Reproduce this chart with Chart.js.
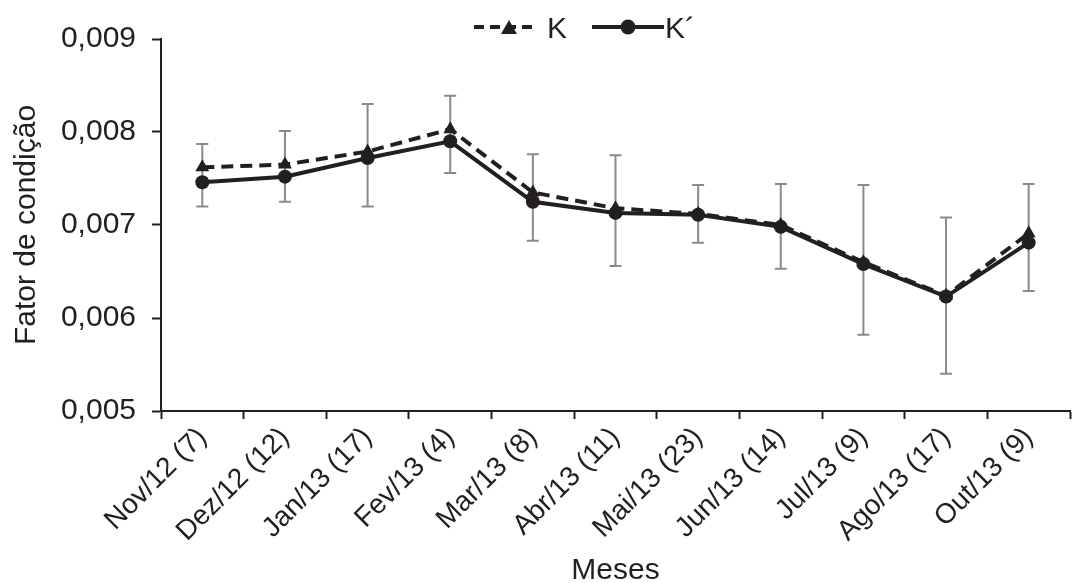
<!DOCTYPE html>
<html lang="pt">
<head>
    <meta charset="UTF-8">
    <title>Fator de condição</title>
    <script src="https://cdn.jsdelivr.net/npm/chart.js"></script>
    <style>
        body { margin: 0; background: #ffffff; }
        #wrap { width: 1078px; height: 583px; }
    </style>
</head>
<body>
<div id="wrap">
    <canvas id="chart" width="1078" height="583"></canvas>
</div>

<script>
    // data
    const months = ['Nov/12 (7)', 'Dez/12 (12)', 'Jan/13 (17)', 'Fev/13 (4)', 'Mar/13 (8)', 'Abr/13 (11)',
                    'Mai/13 (23)', 'Jun/13 (14)', 'Jul/13 (9)', 'Ago/13 (17)', 'Out/13 (9)'];
    const kValues = [0.00762, 0.00765, 0.00779, 0.00803, 0.00735, 0.00718, 0.00712, 0.00700, 0.00660, 0.00624, 0.00691];
    const kPrimeValues = [0.00746, 0.00752, 0.00772, 0.00790, 0.00725, 0.00713, 0.00711, 0.00698, 0.00658, 0.00623, 0.00681];
    const errUpper = [0.00787, 0.00801, 0.00830, 0.00839, 0.00776, 0.00775, 0.00743, 0.00744, 0.00743, 0.00708, 0.00744];
    const errLower = [0.00720, 0.00725, 0.00720, 0.00756, 0.00683, 0.00656, 0.00681, 0.00653, 0.00582, 0.00540, 0.00629];
    const yTicks = [0.005, 0.006, 0.007, 0.008, 0.009];

    const ink = '#231f20';
    const fontFamily = 'Arial, "Liberation Sans", sans-serif';

    // grey error bars behind the lines
    const errorBars = {
        id: 'errorBars',
        beforeDatasetsDraw(chart) {
            const ctx = chart.ctx;
            const x = chart.scales.x, y = chart.scales.y;
            ctx.save();
            ctx.strokeStyle = '#8a8a8a';
            ctx.lineWidth = 2;
            errUpper.forEach((hi, i) => {
                const px = x.getPixelForValue(i);
                const top = y.getPixelForValue(hi);
                const bot = y.getPixelForValue(errLower[i]);
                ctx.beginPath();
                ctx.moveTo(px, top); ctx.lineTo(px, bot);
                ctx.moveTo(px - 6, top); ctx.lineTo(px + 6, top);
                ctx.moveTo(px - 6, bot); ctx.lineTo(px + 6, bot);
                ctx.stroke();
            });
            ctx.restore();
        }
    };

    // legend with line sample + marker, like the original
    const lineLegend = {
        id: 'lineLegend',
        afterDraw(chart) {
            const ctx = chart.ctx;
            const cy = 27;
            ctx.save();
            ctx.strokeStyle = ink;
            ctx.fillStyle = ink;
            ctx.lineWidth = 4;
            // K dashed + triangle
            ctx.setLineDash([10, 6]);
            ctx.beginPath();
            ctx.moveTo(474, cy); ctx.lineTo(536, cy);
            ctx.stroke();
            ctx.setLineDash([]);
            ctx.beginPath();
            ctx.moveTo(509, cy - 7); ctx.lineTo(517, cy + 7); ctx.lineTo(501, cy + 7);
            ctx.closePath(); ctx.fill();
            // K' solid + circle
            ctx.beginPath();
            ctx.moveTo(592, cy); ctx.lineTo(664, cy);
            ctx.stroke();
            ctx.beginPath();
            ctx.arc(628, cy, 7.5, 0, Math.PI * 2);
            ctx.fill();
            ctx.font = '30px ' + fontFamily;
            ctx.textBaseline = 'alphabetic';
            ctx.fillText('K', 547, 38);
            ctx.fillText('K´', 665, 38);
            ctx.restore();
        }
    };

    new Chart(document.getElementById('chart').getContext('2d'), {
        type: 'line',
        data: {
            labels: months,
            datasets: [
                {
                    label: 'K´',
                    data: kPrimeValues,
                    borderColor: ink,
                    backgroundColor: ink,
                    borderWidth: 4,
                    pointStyle: 'circle',
                    pointRadius: 7,
                    pointBorderWidth: 0,
                    tension: 0
                },
                {
                    label: 'K',
                    data: kValues,
                    borderColor: ink,
                    backgroundColor: ink,
                    borderWidth: 4,
                    borderDash: [12, 7],
                    pointStyle: 'triangle',
                    pointRadius: 8,
                    pointBorderWidth: 0,
                    tension: 0
                }
            ]
        },
        options: {
            responsive: false,
            animation: false,
            layout: { padding: { top: 39, right: 1, left: 0, bottom: 0 } },
            plugins: {
                legend: { display: false },
                tooltip: { enabled: false }
            },
            scales: {
                x: {
                    offset: true,
                    afterFit(scale) { scale.height = 172; },
                    grid: {
                        offset: true,
                        drawOnChartArea: false,
                        drawTicks: true,
                        tickLength: 8,
                        tickWidth: 2,
                        tickColor: ink
                    },
                    border: { color: ink, width: 2 },
                    ticks: {
                        color: ink,
                        font: { family: fontFamily, size: 28 },
                        maxRotation: 45,
                        minRotation: 45,
                        padding: 2,
                        autoSkip: false
                    },
                    title: {
                        display: true,
                        text: 'Meses',
                        color: ink,
                        font: { family: fontFamily, size: 30, lineHeight: 0.85 },
                        padding: { top: 0, bottom: 0 }
                    }
                },
                y: {
                    min: 0.005,
                    max: 0.009,
                    afterFit(scale) { scale.width = 161; },
                    afterBuildTicks(scale) { scale.ticks = yTicks.map(v => ({ value: v })); },
                    grid: {
                        drawOnChartArea: false,
                        tickLength: 9,
                        tickWidth: 2,
                        tickColor: ink
                    },
                    border: { color: ink, width: 2 },
                    ticks: {
                        color: ink,
                        font: { family: fontFamily, size: 30 },
                        padding: 16,
                        callback: v => v.toFixed(3).replace('.', ',')
                    },
                    title: {
                        display: true,
                        text: 'Fator de condição',
                        color: ink,
                        font: { family: fontFamily, size: 30 },
                        padding: { top: 9, bottom: 0 }
                    }
                }
            }
        },
        plugins: [errorBars, lineLegend]
    });
</script>
</body>
</html>
